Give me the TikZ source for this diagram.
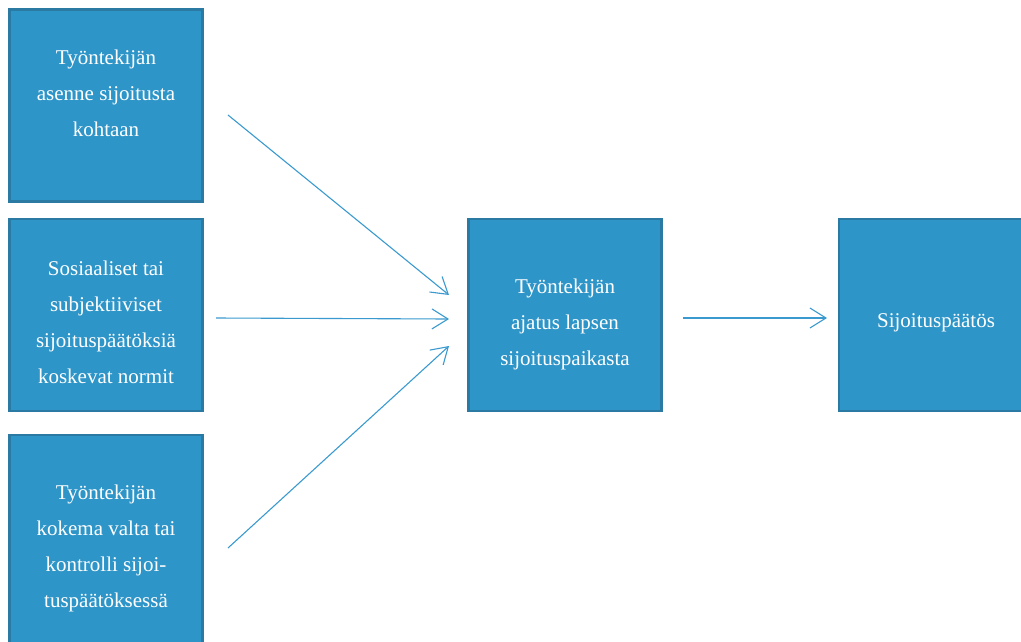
\documentclass[tikz,border=0pt]{standalone}
\usepackage{fontspec}
\setmainfont{Liberation Serif}
\usetikzlibrary{arrows.meta}
\definecolor{boxfill}{HTML}{2E95C8}
\definecolor{boxedge}{HTML}{2B7AA3}
\definecolor{arrowc}{HTML}{3A9AD0}
\tikzset{
  box/.style={draw=boxedge, line width=2.2pt, fill=boxfill, inner sep=0pt},
  lbl/.style={text=white, align=center, inner sep=0pt, font=\fontsize{21}{36}\selectfont},
  conn/.style={draw=arrowc, line width=1.1pt, -{Straight Barb[length=16pt,width=20pt,line width=1.1pt]}}
}
\begin{document}
\begin{tikzpicture}[x=1pt,y=-1pt]
\useasboundingbox (0,0) rectangle (1021,641);
% boxes
\node[box, minimum width=193pt, minimum height=192pt] (b1) at (106,105.5) {};
\node[box, minimum width=193pt, minimum height=192pt] (b2) at (106,315) {};
\node[box, minimum width=193pt, minimum height=230pt] (b3) at (106,550) {};
\node[box, minimum width=193pt, minimum height=192pt] (c) at (565,315) {};
\node[box, minimum width=200pt, minimum height=192pt] (r) at (939,315) {};
% texts
\node[lbl] (t1) at (106,93) {Työntekijän\\asenne sijoitusta\\kohtaan};
\node[lbl] (t2) at (106,322) {Sosiaaliset tai\\subjektiiviset\\sijoituspäätöksiä\\koskevat normit};
\node[lbl] (t3) at (106,548) {Työntekijän\\kokema valta tai\\kontrolli sijoi-\\tuspäätöksessä};
\node[lbl] (tc) at (565,324) {Työntekijän\\ajatus lapsen\\sijoituspaikasta};
\node[lbl] (tr) at (936,323) {Sijoituspäätös};
% arrow ends
\coordinate (a1s) at (228,115);
\coordinate (a1e) at (449,295);
\coordinate (a2s) at (216,318);
\coordinate (a2e) at (449,319);
\coordinate (a3s) at (228,548);
\coordinate (a3e) at (449,346);
\coordinate (a4s) at (683,318);
\coordinate (a4e) at (827,318);
\draw[conn] (a1s) -- (a1e);
\draw[conn] (a2s) -- (a2e);
\draw[conn] (a3s) -- (a3e);
\draw[conn] (a4s) -- (a4e);
\end{tikzpicture}
\end{document}
